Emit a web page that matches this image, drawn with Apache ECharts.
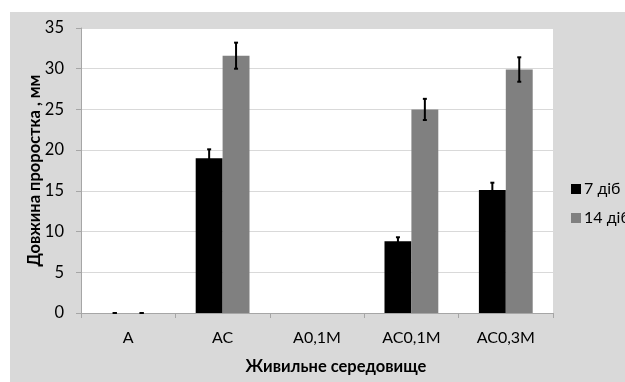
<!DOCTYPE html>
<html><head><meta charset="utf-8">
<script src="https://cdn.jsdelivr.net/npm/echarts@6/dist/echarts.min.js"></script>
<style>html,body{margin:0;padding:0;background:#fff}#c{width:625px;height:382px}</style>
</head><body><div id="c"></div>
<script>
const categories = ['A', 'AC', 'A0,1M', 'AC0,1M', 'AC0,3M'];
const seriesNames = ['7 діб', '14 діб'];
const values7 = [0, 19.0, null, 8.8, 15.1];
const values14 = [0, 31.6, null, 25.0, 29.9];
const err7 = [0, 1.1, null, 0.5, 0.9];
const err14 = [0, 1.6, null, 1.3, 1.5];
const yTicks = [0, 5, 10, 15, 20, 25, 30, 35];

const FONT = 'Lato';
const GAP = 0.43;
const chart = echarts.init(document.getElementById('c'));

function errSeries(vals, errs, sign) {
  const data = [];
  vals.forEach((v, i) => { if (v !== null) data.push([i, v, errs[i]]); });
  return {
    type: 'custom', z: 10, silent: true,
    data: data,
    renderItem: function (params, api) {
      const i = api.value(0), v = api.value(1), e = api.value(2);
      const band = api.size([1, 0])[0];
      const off = sign * band * (1 - GAP) / 4;
      const c = api.coord([i, v]);
      const hi = api.coord([i, v + e]);
      const lo = api.coord([i, v - e]);
      const x = c[0] + off;
      const cap = 2;
      const st = { stroke: '#000', lineWidth: 2 };
      return { type: 'group', children: [
        { type: 'line', shape: { x1: x, y1: hi[1], x2: x, y2: lo[1] }, style: st },
        { type: 'line', shape: { x1: x - cap, y1: hi[1], x2: x + cap, y2: hi[1] }, style: st },
        { type: 'line', shape: { x1: x - cap, y1: lo[1], x2: x + cap, y2: lo[1] }, style: st }
      ]};
    }
  };
}

chart.setOption({
  animation: false,
  textStyle: { fontFamily: FONT },
  graphic: [{ type: 'rect', z: -10, shape: { x: 10, y: 12, width: 615, height: 370 }, style: { fill: '#d9d9d9' } }],
  grid: { left: 81, right: 72, top: 28, bottom: 69, show: true, backgroundColor: '#fff', borderWidth: 0,
    containLabel: false, outerBoundsMode: 'none' },
  legend: {
    orient: 'vertical', left: 566, top: 176, itemWidth: 10, itemHeight: 10, itemGap: 13,
    icon: 'rect', data: seriesNames,
    textStyle: { fontFamily: FONT, fontSize: 16, color: '#000', padding: [0, 0, 0, -2] }
  },
  xAxis: {
    type: 'category', data: categories,
    name: 'Живильне середовище', nameLocation: 'middle', nameGap: 45, nameMoveOverlap: false,
    nameTextStyle: { fontFamily: FONT, fontSize: 16.5, fontWeight: 'bold', color: '#000', padding: [0, 0, 0, 38] },
    axisLine: { lineStyle: { color: '#a6a6a6' } },
    axisTick: { show: true, length: 5, lineStyle: { color: '#a6a6a6' } },
    axisLabel: { fontSize: 16, color: '#000', margin: 17, fontFamily: FONT }
  },
  yAxis: {
    type: 'value', min: 0, max: 35, interval: 5,
    name: 'Довжина проростка , мм', nameLocation: 'middle', nameGap: 38, nameMoveOverlap: false,
    nameTextStyle: { fontFamily: FONT, fontSize: 16.5, fontWeight: 'bold', color: '#000' },
    axisLine: { show: true, lineStyle: { color: '#a6a6a6' } },
    axisTick: { show: true, length: 5, lineStyle: { color: '#a6a6a6' } },
    splitLine: { lineStyle: { color: '#d9d9d9', width: 1 } },
    axisLabel: { fontSize: 16.5, color: '#000', margin: 17, fontFamily: FONT,
      formatter: v => yTicks.includes(v) ? String(v) : '' }
  },
  series: [
    { name: seriesNames[0], type: 'bar', data: values7, barGap: '0%', barCategoryGap: (GAP * 100) + '%', itemStyle: { color: '#000' } },
    { name: seriesNames[1], type: 'bar', data: values14, barGap: '0%', barCategoryGap: (GAP * 100) + '%', itemStyle: { color: '#808080' } },
    errSeries(values7, err7, -1),
    errSeries(values14, err14, 1)
  ]
});
</script></body></html>
